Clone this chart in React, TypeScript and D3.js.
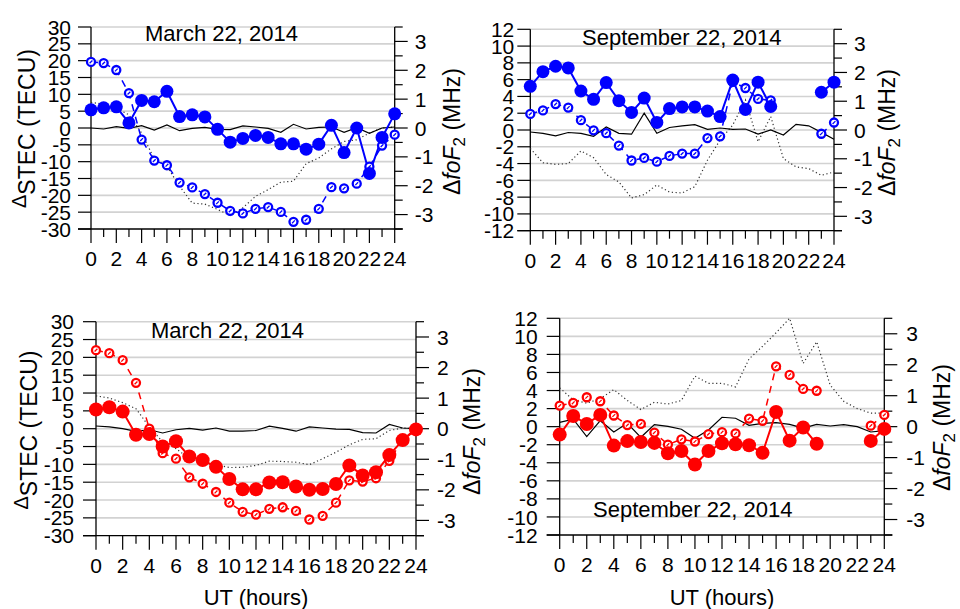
import * as d3 from 'd3'
import { useEffect, useRef } from 'react'

// hours of the day (UT)
const hours = [0, 1, 2, 3, 4, 5, 6, 7, 8, 9, 10, 11, 12, 13, 14, 15, 16, 17, 18, 19, 20, 21, 22, 23, 24]
const hourLabels = [0, 2, 4, 6, 8, 10, 12, 14, 16, 18, 20, 22, 24]
const tecuTicksWide = [-30, -25, -20, -15, -10, -5, 0, 5, 10, 15, 20, 25, 30]
const tecuTicksNarrow = [-12, -10, -8, -6, -4, -2, 0, 2, 4, 6, 8, 10, 12]
const mhzTicks = [-3, -2, -1, 0, 1, 2, 3]
const mhzMinor = [-3.5, -2.5, -1.5, -0.5, 0.5, 1.5, 2.5, 3.5]

// ---- March 22, 2014 (top, blue) ----
const marStecTop = [5.4, 6.0, 6.3, 1.5, 8.2, 7.8, 10.9, 3.4, 3.9, 3.3, -0.4, -4.2, -3.1, -2.2, -2.8, -4.7, -4.7, -6.3, -4.8, 0.8, -7.3, 0, -13.5, -2.8, 4.2]
const marFof2Top = [2.29, 2.25, 2.01, 1.21, -0.4, -1.13, -1.29, -1.89, -2.06, -2.29, -2.59, -2.87, -2.96, -2.8, -2.74, -2.91, -3.25, -3.18, -2.8, -2.05, -2.09, -1.93, -1.34, -0.61, -0.23]
const marQuietTop = [0, -0.3, 0.4, -0.1, 0.7, -0.6, 0.9, -0.8, -0.1, 0.2, -0.4, -0.5, 0.6, 0.3, -0.1, -1.3, 1.1, -0.3, 0.2, 0.3, -1.3, 0.1, -1.6, 0, 0.3]
const marDottedTop = [7.6, 7.1, 5.9, 3.9, -1.5, -9.2, -11.4, -17.3, -22.3, -22.6, -24.2, -26.0, -23.7, -20.3, -18.3, -16.1, -15.8, -10.6, -8.9, -6.2, -4.0, -3.5, -1.5, 0, 0.3]

// ---- September 22, 2014 (top, blue) ----
const sepStecTop = [5.2, 6.95, 7.6, 7.4, 4.65, 3.65, 5.65, 3.5, 2.1, 3.8, 0.9, 2.55, 2.75, 2.75, 2.25, 1.6, 5.95, 2.45, 5.7, 2.8, null, null, null, 4.5, 5.7]
const sepFof2Top = [0.56, 0.68, 0.9, 0.78, 0.34, -0.01, -0.11, -0.54, -1.06, -0.97, -1.1, -0.9, -0.82, -0.82, -0.28, -0.22, 1.67, 1.46, 1.08, 1.03, null, null, null, -0.13, 0.26]
const sepQuietTop = [-0.24, -0.4, -0.7, -0.3, -0.4, -0.75, 0.36, -0.4, -0.5, 2.0, -0.4, 0.3, 0.5, 0.64, 0.08, 0.24, 0.08, 0.12, -0.48, 0, -0.6, 0.68, 0.5, -0.28, -1.1]
const sepDottedTop = [-2.2, -3.9, -4.1, -4.0, -2.5, -3.3, -5.3, -6.2, -8.1, -7.7, -6.55, -7.4, -7.5, -6.75, -3.6, -1.2, 0.6, 3.6, -1.4, 1.6, -3.4, -4.4, -4.6, -5.4, -5.0]

// ---- March 22, 2014 (bottom, red) ----
const marStecBot = [5.4, 6.0, 4.8, -1.7, -1.5, -5.0, -3.5, -7.8, -8.8, -10.7, -14.1, -17.0, -17.0, -15.1, -15.0, -16.2, -17.1, -16.9, -15.5, -10.3, -13.1, -12.2, -7.4, -3.2, -0.2]
const marFof2Bot = [2.57, 2.47, 2.24, 1.5, 0.0, -0.8, -0.98, -1.59, -1.8, -2.07, -2.42, -2.72, -2.81, -2.62, -2.57, -2.69, -2.97, -2.85, -2.42, -1.69, -1.73, -1.62, -1.05, -0.35, 0]
const marQuietBot = [0.75, 0.5, 0, -0.75, -0.3, -1.2, -0.3, 0.1, -0.4, 0.2, -0.7, -0.7, -0.5, 0.7, 0.1, -0.7, 0.5, 0.2, -0.1, -0.2, -1.1, -1.2, 1.2, 0.2, 0]
const marDottedBot = [9.2, 8.6, 7.3, 5.6, 0.5, -3.7, -5.6, -8.4, -9.6, -10.1, -10.9, -10.8, -10.3, -9.1, -9.2, -9.4, -10.1, -8.4, -6.6, -4.5, -3.0, -2.8, -0.5, 0.2, 0]

// ---- September 22, 2014 (bottom, red) ----
const sepStecBot = [-0.88, 1.18, 0.3, 1.3, -2.1, -1.6, -1.7, -1.8, -2.95, -2.7, -4.2, -2.7, -1.84, -1.95, -2.06, -2.9, 1.63, -1.55, -0.1, -1.9, null, null, null, -1.58, -0.25]
const sepFof2Bot = [0.68, 0.77, 0.95, 0.82, 0.36, 0.05, 0.09, -0.19, -0.58, -0.41, -0.48, -0.24, -0.18, -0.22, 0.26, 0.19, 1.95, 1.67, 1.22, 1.16, null, null, null, 0.03, 0.38]
const sepQuietBot = [0.48, 0.82, -1.1, 0.66, -0.59, 0.37, -1.18, 0.22, 0.03, -0.29, -1.29, -0.36, 1.04, 0.93, 0.15, 0.37, 0.44, 0.26, -0.15, 0.26, 0.07, 0.22, 0.0, -0.59, -0.44]
const sepDottedBot = [4.3, 2.96, 2.6, 3.1, 4.1, 2.9, 1.9, 2.7, 2.5, 2.9, 5.6, 4.8, 4.8, 4.4, 7.5, 8.9, 10.4, 12.0, 7.0, 9.4, 4.6, 2.8, 2.0, 1.5, 1.5]

const FONT = '"Liberation Sans", Arial, Helvetica, sans-serif'

const panels = [
	{
		x0: 91, x1: 394.7, y0: 27, y1: 229, ticks: tecuTicksWide, color: '#0000ff', r: 6.5,
		stec: marStecTop, fof2: marFof2Top, quiet: marQuietTop, dotted: marDottedTop,
		title: 'March 22, 2014', titleX: 145, titleY: 41,
		leftGap: 20, rightGap: 20, leftLabel: { x: 35, y: 128.5 }, rightLabel: { x: 460, y: 131.5 }, ut: false,
	},
	{
		x0: 530.3, x1: 834, y0: 29.3, y1: 230.7, ticks: tecuTicksNarrow, color: '#0000ff', r: 6.5,
		stec: sepStecTop, fof2: sepFof2Top, quiet: sepQuietTop, dotted: sepDottedTop,
		title: 'September 22, 2014', titleX: 582, titleY: 45,
		leftGap: 16, rightGap: 20, leftLabel: null, rightLabel: { x: 895, y: 132.5 }, ut: false,
	},
	{
		x0: 96, x1: 416, y0: 321.7, y1: 535.7, ticks: tecuTicksWide, color: '#ff0000', r: 7,
		stec: marStecBot, fof2: marFof2Bot, quiet: marQuietBot, dotted: marDottedBot,
		title: 'March 22, 2014', titleX: 151, titleY: 338,
		leftGap: 22, rightGap: 21, leftLabel: { x: 36.5, y: 430 }, rightLabel: { x: 480, y: 431.5 }, ut: true,
	},
	{
		x0: 559.7, x1: 884.3, y0: 318.3, y1: 535, ticks: tecuTicksNarrow, color: '#ff0000', r: 7,
		stec: sepStecBot, fof2: sepFof2Bot, quiet: sepQuietBot, dotted: sepDottedBot,
		title: 'September 22, 2014', titleX: 593, titleY: 517,
		leftGap: 22, rightGap: 22, leftLabel: null, rightLabel: { x: 950, y: 427.5 }, ut: true,
	},
]

function drawPanel(svg, p) {
	const g = svg.append('g')
	const x = d3.scaleLinear().domain([0, 24]).range([p.x0, p.x1])
	const yL = d3.scaleLinear().domain([p.ticks[0], p.ticks[p.ticks.length - 1]]).range([p.y1, p.y0])
	const yR = d3.scaleLinear().domain([-3.5, 3.5]).range([p.y1, p.y0])

	// grid
	g.selectAll('.grid')
		.data(p.ticks.slice(1))
		.enter()
		.append('line')
		.attr('x1', p.x0)
		.attr('x2', p.x1)
		.attr('y1', (d) => yL(d))
		.attr('y2', (d) => yL(d))
		.attr('stroke', '#d2d2d2')
		.attr('stroke-width', 1.6)

	// left axis
	g.append('line').attr('x1', p.x0).attr('x2', p.x0).attr('y1', p.y0).attr('y2', p.y1).attr('stroke', '#000').attr('stroke-width', 1.3)
	g.selectAll('.lt')
		.data(p.ticks)
		.enter()
		.append('line')
		.attr('x1', p.x0 - 13)
		.attr('x2', p.x0)
		.attr('y1', (d) => yL(d))
		.attr('y2', (d) => yL(d))
		.attr('stroke', '#000')
		.attr('stroke-width', 1.2)
	g.selectAll('.ll')
		.data(p.ticks)
		.enter()
		.append('text')
		.attr('x', p.x0 - p.leftGap)
		.attr('y', (d) => yL(d))
		.attr('dy', '0.36em')
		.attr('text-anchor', 'end')
		.style('font-family', FONT)
		.style('font-size', '21px')
		.text((d) => d)

	// right axis
	g.append('line').attr('x1', p.x1).attr('x2', p.x1).attr('y1', p.y0).attr('y2', p.y1).attr('stroke', '#000').attr('stroke-width', 1.3)
	g.selectAll('.rt')
		.data(mhzTicks)
		.enter()
		.append('line')
		.attr('x1', p.x1)
		.attr('x2', p.x1 + 13)
		.attr('y1', (d) => yR(d))
		.attr('y2', (d) => yR(d))
		.attr('stroke', '#000')
		.attr('stroke-width', 1.2)
	g.selectAll('.rm')
		.data(mhzMinor)
		.enter()
		.append('line')
		.attr('x1', p.x1)
		.attr('x2', p.x1 + 8)
		.attr('y1', (d) => yR(d))
		.attr('y2', (d) => yR(d))
		.attr('stroke', '#000')
		.attr('stroke-width', 1.2)
	g.selectAll('.rl')
		.data(mhzTicks)
		.enter()
		.append('text')
		.attr('x', p.x1 + p.rightGap)
		.attr('y', (d) => yR(d))
		.attr('dy', '0.36em')
		.style('font-family', FONT)
		.style('font-size', '21px')
		.text((d) => d)

	// bottom axis
	g.append('line').attr('x1', p.x0 - 13).attr('x2', p.x1 + 8).attr('y1', p.y1).attr('y2', p.y1).attr('stroke', '#000').attr('stroke-width', 1.3)
	g.selectAll('.xt')
		.data(hours)
		.enter()
		.append('line')
		.attr('x1', (d) => x(d))
		.attr('x2', (d) => x(d))
		.attr('y1', p.y1)
		.attr('y2', (d) => p.y1 + (d % 2 === 0 ? 14 : 8))
		.attr('stroke', '#000')
		.attr('stroke-width', 1.2)
	g.selectAll('.xl')
		.data(hourLabels)
		.enter()
		.append('text')
		.attr('x', (d) => x(d))
		.attr('y', p.y1 + 37)
		.attr('text-anchor', 'middle')
		.style('font-family', FONT)
		.style('font-size', '21px')
		.text((d) => d)

	// series
	const lineL = d3
		.line()
		.defined((d) => d[1] !== null)
		.x((d) => x(d[0]))
		.y((d) => yL(d[1]))
	const lineR = d3
		.line()
		.defined((d) => d[1] !== null)
		.x((d) => x(d[0]))
		.y((d) => yR(d[1]))
	const pairs = (arr) => hours.map((h, i) => [h, arr[i]])

	g.append('path').datum(pairs(p.dotted)).attr('d', lineL).attr('fill', 'none').attr('stroke', '#333').attr('stroke-width', 1.2).attr('stroke-dasharray', '1.2,2.6')
	g.append('path').datum(pairs(p.quiet)).attr('d', lineL).attr('fill', 'none').attr('stroke', '#000').attr('stroke-width', 1.2)
	g.append('path').datum(pairs(p.fof2)).attr('d', lineR).attr('fill', 'none').attr('stroke', p.color).attr('stroke-width', 1.5).attr('stroke-dasharray', '7,6')
	g.append('path').datum(pairs(p.stec)).attr('d', lineL).attr('fill', 'none').attr('stroke', p.color).attr('stroke-width', 2)

	const open = g
		.selectAll('.open')
		.data(pairs(p.fof2).filter((d) => d[1] !== null))
		.enter()
		.append('g')
		.attr('transform', (d) => `translate(${x(d[0])},${yR(d[1])})`)
	open.append('circle').attr('r', 4).attr('fill', '#fff').attr('stroke', p.color).attr('stroke-width', 2.3)
	open.append('line').attr('x1', -1.4).attr('y1', 1.4).attr('x2', 1.4).attr('y2', -1.4).attr('stroke', p.color).attr('stroke-width', 1.3)

	g.selectAll('.filled')
		.data(pairs(p.stec).filter((d) => d[1] !== null))
		.enter()
		.append('circle')
		.attr('cx', (d) => x(d[0]))
		.attr('cy', (d) => yL(d[1]))
		.attr('r', p.r)
		.attr('fill', p.color)

	// title
	g.append('text').attr('x', p.titleX).attr('y', p.titleY).style('font-family', FONT).style('font-size', '22px').text(p.title)

	// axis labels
	if (p.leftLabel) {
		const t = g
			.append('text')
			.attr('transform', `translate(${p.leftLabel.x},${p.leftLabel.y}) rotate(-90)`)
			.attr('text-anchor', 'middle')
			.style('font-family', FONT)
			.style('font-size', '23px')
		t.append('tspan').attr('dy', -9).style('font-size', '20px').text('Δ')
		t.append('tspan').attr('dy', 9).text('STEC (TECU)')
	}
	if (p.rightLabel) {
		const t = g
			.append('text')
			.attr('transform', `translate(${p.rightLabel.x},${p.rightLabel.y}) rotate(-90)`)
			.attr('text-anchor', 'middle')
			.style('font-family', FONT)
			.style('font-size', '23px')
		t.append('tspan').text('Δ')
		t.append('tspan').style('font-style', 'italic').text('foF')
		t.append('tspan').attr('dy', 5).style('font-size', '17px').text('2')
		t.append('tspan').attr('dy', -5).text(' (MHz)')
	}
	if (p.ut) {
		g.append('text')
			.attr('x', (p.x0 + p.x1) / 2)
			.attr('y', 605)
			.attr('text-anchor', 'middle')
			.style('font-family', FONT)
			.style('font-size', '22px')
			.text('UT (hours)')
	}
}

export default function App() {
	const svgRef = useRef(null)

	useEffect(() => {
		const svg = d3.select(svgRef.current)
		svg.selectAll('*').remove()
		panels.forEach((p) => drawPanel(svg, p))
	}, [])

	return (
		<svg
			ref={svgRef}
			width={960}
			height={609}
			style={{ position: 'absolute', left: 0, top: 0, background: '#fff' }}
		/>
	)
}
